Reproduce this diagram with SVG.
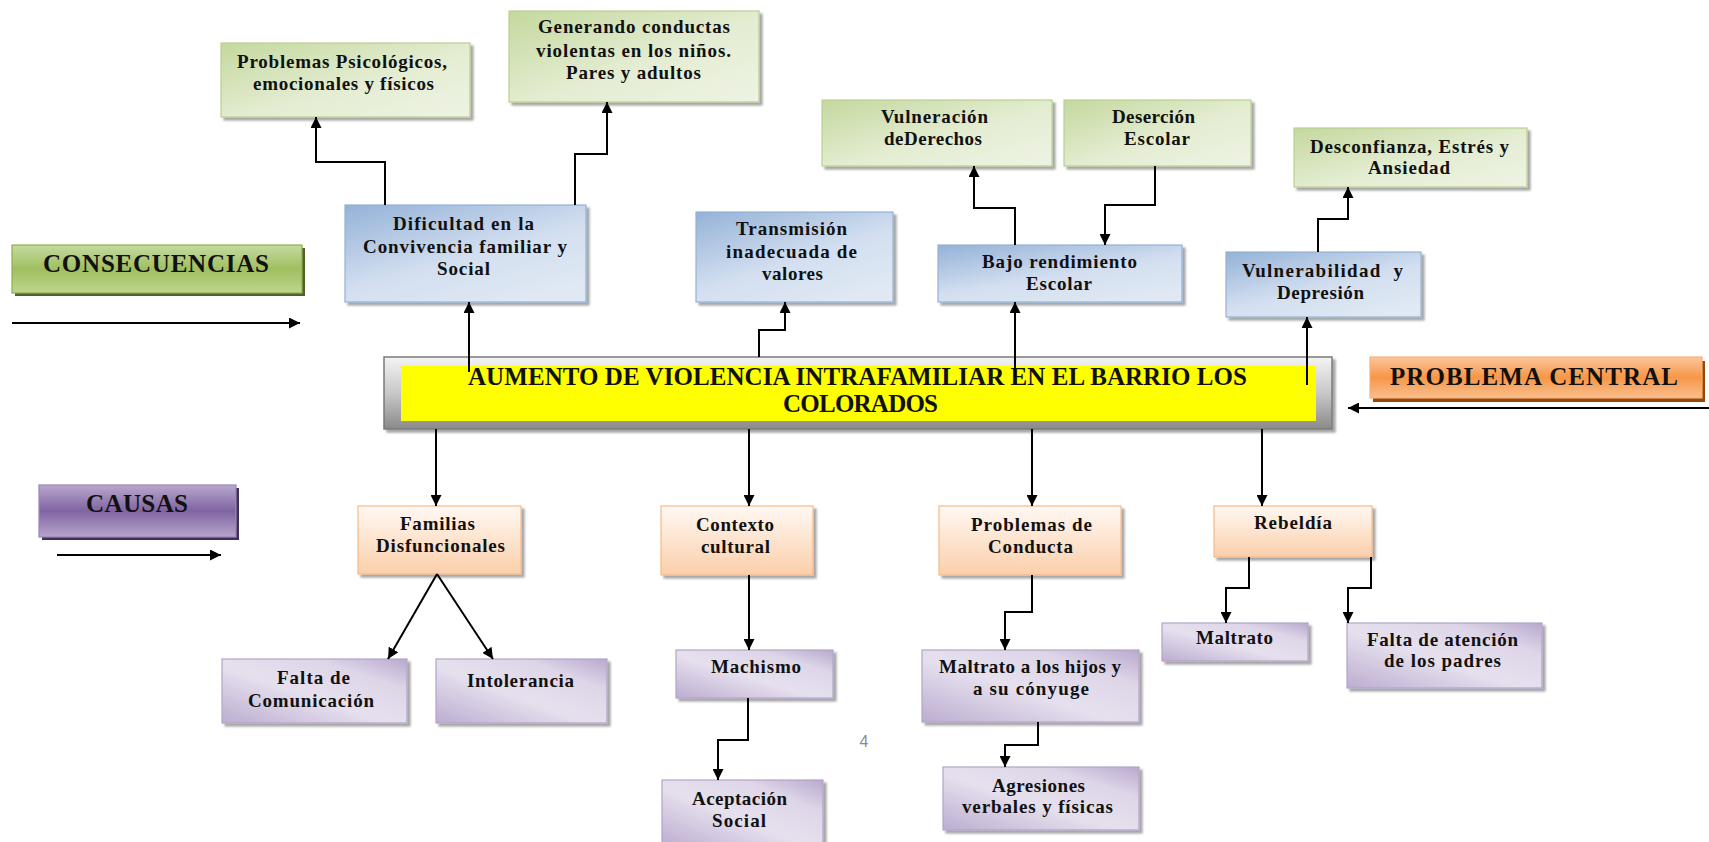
<svg xmlns="http://www.w3.org/2000/svg" width="1709" height="842" viewBox="0 0 1709 842">
<style>
.t{font-family:"Liberation Serif","Times New Roman",serif;font-weight:bold;font-size:19px;fill:#111;text-anchor:middle}
.lab{font-size:25px}
.ttl{font-size:25px}
.green{fill:url(#gGreen);stroke:#b9cf90;stroke-width:1.2}
.blue{fill:url(#gBlue);stroke:#93b1d6;stroke-width:1.2}
.orange{fill:url(#gOrange);stroke:#f6b98a;stroke-width:1.2}
.purple{fill:url(#gPurple);stroke:#b3a3c9;stroke-width:1.2}
.sh{filter:url(#shadow)}
.c{fill:none;stroke:#000;stroke-width:2;marker-end:url(#ah)}
</style>
<defs>
<filter id="shadow" x="-10%" y="-10%" width="130%" height="140%">
<feDropShadow dx="3" dy="3" stdDeviation="1" flood-color="#000" flood-opacity="0.35"/>
</filter>
<linearGradient id="gGreen" x1="0" y1="0" x2="1" y2="1">
<stop offset="0" stop-color="#c4d89e"/><stop offset="0.55" stop-color="#e4edd2"/><stop offset="1" stop-color="#eef3e4"/>
</linearGradient>
<linearGradient id="gBlue" x1="0" y1="0" x2="0.7" y2="1">
<stop offset="0" stop-color="#94b2d7"/><stop offset="0.6" stop-color="#d3dff0"/><stop offset="1" stop-color="#dfe8f3"/>
</linearGradient>
<linearGradient id="gOrange" x1="0" y1="0" x2="0" y2="1">
<stop offset="0" stop-color="#fff8f3"/><stop offset="1" stop-color="#fbcfaa"/>
</linearGradient>
<linearGradient id="gPurple" x1="0" y1="1" x2="1" y2="0">
<stop offset="0" stop-color="#bcadd0"/><stop offset="0.45" stop-color="#e6e0ee"/><stop offset="0.75" stop-color="#ded6e8"/><stop offset="1" stop-color="#b9a9ce"/>
</linearGradient>
<linearGradient id="gCons" x1="0" y1="0" x2="0" y2="1">
<stop offset="0" stop-color="#c6da9f"/><stop offset="0.5" stop-color="#a0bf60"/><stop offset="1" stop-color="#bfd68e"/>
</linearGradient>
<linearGradient id="gCaus" x1="0" y1="0" x2="0" y2="1">
<stop offset="0" stop-color="#b8a8cd"/><stop offset="0.5" stop-color="#8064a2"/><stop offset="1" stop-color="#b6a5cb"/>
</linearGradient>
<linearGradient id="gProb" x1="0" y1="0" x2="0" y2="1">
<stop offset="0" stop-color="#fbc69d"/><stop offset="0.5" stop-color="#f79646"/><stop offset="1" stop-color="#fabf8f"/>
</linearGradient>
<linearGradient id="gCentral" x1="0" y1="0" x2="0" y2="1">
<stop offset="0" stop-color="#f4f4f4"/><stop offset="0.5" stop-color="#c8c8c8"/><stop offset="1" stop-color="#8a8a8a"/>
</linearGradient>
<marker id="ah" viewBox="0 0 10 10" markerUnits="userSpaceOnUse" markerWidth="11" markerHeight="11" refX="10" refY="5" orient="auto">
<path d="M0,0 L10,5 L0,10 z" fill="#000"/>
</marker>
</defs>
<rect width="1709" height="842" fill="#fff"/>

<!-- Legend labels -->
<g id="consecuencias">
<rect x="15" y="248" width="290" height="48" fill="#4f6228"/>
<rect x="12" y="245" width="290" height="48" fill="url(#gCons)" stroke="#90ae52" stroke-width="1.2"/>
<text class="t lab" x="156" y="272" textLength="226">CONSECUENCIAS</text>
</g>
<g id="causas">
<rect x="42" y="488" width="197" height="52" fill="#3f3151"/>
<rect x="39" y="485" width="197" height="52" fill="url(#gCaus)" stroke="#9a85b8" stroke-width="1.2"/>
<text class="t lab" x="137" y="512" textLength="102">CAUSAS</text>
</g>
<g id="problema-central">
<rect x="1373" y="361" width="332" height="41" fill="#974806"/>
<rect x="1370" y="357" width="332" height="41" fill="url(#gProb)" stroke="#f8b07a" stroke-width="1.2"/>
<text class="t lab" x="1534" y="385" textLength="288">PROBLEMA CENTRAL</text>
</g>

<!-- Central problem -->
<g id="central">
<rect x="384" y="357" width="948" height="72" fill="url(#gCentral)" stroke="#7a7a7a" stroke-width="1.5" class="sh"/>
<rect x="401" y="366" width="915" height="55" fill="#ffff00"/>
<text class="t ttl" x="857.5" y="385" textLength="779">AUMENTO DE VIOLENCIA INTRAFAMILIAR EN EL BARRIO LOS</text>
<text class="t ttl" x="860.5" y="412" textLength="155">COLORADOS</text>
</g>

<!-- Consequences -->
<g id="prob-psico">
<rect class="green sh" x="221" y="43" width="249" height="74"/>
<text class="t" x="342" y="68" textLength="210">Problemas Psicológicos,</text>
<text class="t" x="343.5" y="90" textLength="181">emocionales y físicos</text>
</g>
<g id="generando">
<rect class="green sh" x="509" y="11" width="250" height="91"/>
<text class="t" x="634" y="33" textLength="192">Generando conductas</text>
<text class="t" x="633.5" y="57" textLength="195">violentas en los niños.</text>
<text class="t" x="633.5" y="79" textLength="135">Pares y adultos</text>
</g>
<g id="dificultad">
<rect class="blue sh" x="345" y="205" width="241" height="97"/>
<text class="t" x="463.5" y="230" textLength="141">Dificultad en la</text>
<text class="t" x="465" y="253" textLength="204">Convivencia familiar y</text>
<text class="t" x="463.5" y="275" textLength="53">Social</text>
</g>
<g id="transmision">
<rect class="blue sh" x="696" y="212" width="197" height="90"/>
<text class="t" x="791.5" y="235" textLength="111">Transmisión</text>
<text class="t" x="791.5" y="258" textLength="131">inadecuada de</text>
<text class="t" x="792.5" y="280" textLength="61">valores</text>
</g>
<g id="vulneracion">
<rect class="green sh" x="822" y="100" width="230" height="66"/>
<text class="t" x="934.5" y="123" textLength="107">Vulneración</text>
<text class="t" x="933" y="145" textLength="98">deDerechos</text>
</g>
<g id="desercion">
<rect class="green sh" x="1064" y="100" width="187" height="66"/>
<text class="t" x="1153.5" y="123" textLength="83">Deserción</text>
<text class="t" x="1157" y="145" textLength="66">Escolar</text>
</g>
<g id="bajo-rendimiento">
<rect class="blue sh" x="938" y="245" width="244" height="57"/>
<text class="t" x="1059.5" y="268" textLength="155">Bajo rendimiento</text>
<text class="t" x="1059" y="290" textLength="66">Escolar</text>
</g>
<g id="desconfianza">
<rect class="green sh" x="1294" y="128" width="233" height="59"/>
<text class="t" x="1409.5" y="153" textLength="199">Desconfianza, Estrés y</text>
<text class="t" x="1409" y="174" textLength="82">Ansiedad</text>
</g>
<g id="vulnerabilidad">
<rect class="blue sh" x="1226" y="252" width="195" height="65"/>
<text class="t" x="1322.5" y="277" textLength="161" xml:space="preserve">Vulnerabilidad  y</text>
<text class="t" x="1320.5" y="299" textLength="87">Depresión</text>
</g>

<!-- Causes -->
<g id="familias">
<rect class="orange sh" x="358" y="506" width="163" height="68"/>
<text class="t" x="437.5" y="530" textLength="75">Familias</text>
<text class="t" x="440.5" y="552" textLength="129">Disfuncionales</text>
</g>
<g id="contexto">
<rect class="orange sh" x="661" y="506" width="152" height="69"/>
<text class="t" x="735" y="531" textLength="78">Contexto</text>
<text class="t" x="735.5" y="553" textLength="69">cultural</text>
</g>
<g id="problemas-conducta">
<rect class="orange sh" x="939" y="506" width="182" height="69"/>
<text class="t" x="1031.5" y="531" textLength="121">Problemas de</text>
<text class="t" x="1030.5" y="553" textLength="85">Conducta</text>
</g>
<g id="rebeldia">
<rect class="orange sh" x="1214" y="506" width="158" height="51"/>
<text class="t" x="1293" y="529" textLength="78">Rebeldía</text>
</g>
<g id="falta-comunicacion">
<rect class="purple sh" x="222" y="659" width="185" height="64"/>
<text class="t" x="313.5" y="684" textLength="73">Falta de</text>
<text class="t" x="311" y="707" textLength="126">Comunicación</text>
</g>
<g id="intolerancia">
<rect class="purple sh" x="436" y="659" width="171" height="64"/>
<text class="t" x="520.5" y="687" textLength="107">Intolerancia</text>
</g>
<g id="machismo">
<rect class="purple sh" x="676" y="650" width="157" height="48"/>
<text class="t" x="756" y="673" textLength="90">Machismo</text>
</g>
<g id="aceptacion">
<rect class="purple sh" x="662" y="780" width="161" height="66"/>
<text class="t" x="739.5" y="805" textLength="95">Aceptación</text>
<text class="t" x="739" y="827" textLength="54">Social</text>
</g>
<g id="maltrato-hijos">
<rect class="purple sh" x="922" y="650" width="217" height="72"/>
<text class="t" x="1030" y="673" textLength="182">Maltrato a los hijos y</text>
<text class="t" x="1031" y="695" textLength="116">a su cónyuge</text>
</g>
<g id="agresiones">
<rect class="purple sh" x="943" y="767" width="196" height="63"/>
<text class="t" x="1038.5" y="792" textLength="93">Agresiones</text>
<text class="t" x="1037.5" y="813" textLength="151">verbales y físicas</text>
</g>
<g id="maltrato">
<rect class="purple sh" x="1162" y="623" width="146" height="38"/>
<text class="t" x="1234.5" y="644" textLength="77">Maltrato</text>
</g>
<g id="falta-atencion">
<rect class="purple sh" x="1347" y="623" width="195" height="65"/>
<text class="t" x="1442.5" y="646" textLength="151">Falta de atención</text>
<text class="t" x="1442.5" y="667" textLength="117">de los padres</text>
</g>

<text x="864" y="747" font-family="'Liberation Sans',Arial,sans-serif" font-size="16" fill="#8c8c8c" text-anchor="middle">4</text>

<!-- Connectors -->
<g id="connectors">
<path class="c" d="M469,372 V302"/>
<path class="c" d="M385,205 V162 H316 V117"/>
<path class="c" d="M575,205 V154 H607 V102"/>
<path class="c" d="M759,357 V330 H785 V302"/>
<path class="c" d="M1015,377 V302"/>
<path class="c" d="M1015,245 V208 H974 V166"/>
<path class="c" d="M1155,166 V205 H1105 V245"/>
<path class="c" d="M1307,385 V317"/>
<path class="c" d="M1318,252 V219 H1348 V187"/>
<path class="c" d="M436,429 V506"/>
<path class="c" d="M437,574 L388,659"/>
<path class="c" d="M437,574 L493,659"/>
<path class="c" d="M749,429 V506"/>
<path class="c" d="M749,575 V650"/>
<path class="c" d="M748,698 V740 H718 V780"/>
<path class="c" d="M1032,429 V506"/>
<path class="c" d="M1032,575 V612 H1005 V650"/>
<path class="c" d="M1038,722 V745 H1005 V767"/>
<path class="c" d="M1262,429 V506"/>
<path class="c" d="M1249,557 V588 H1226 V623"/>
<path class="c" d="M1371,557 V588 H1348 V623"/>
<path class="c" d="M12,323 H300"/>
<path class="c" d="M57,555 H221"/>
<path class="c" d="M1709,408 H1348"/>
</g>
</svg>
